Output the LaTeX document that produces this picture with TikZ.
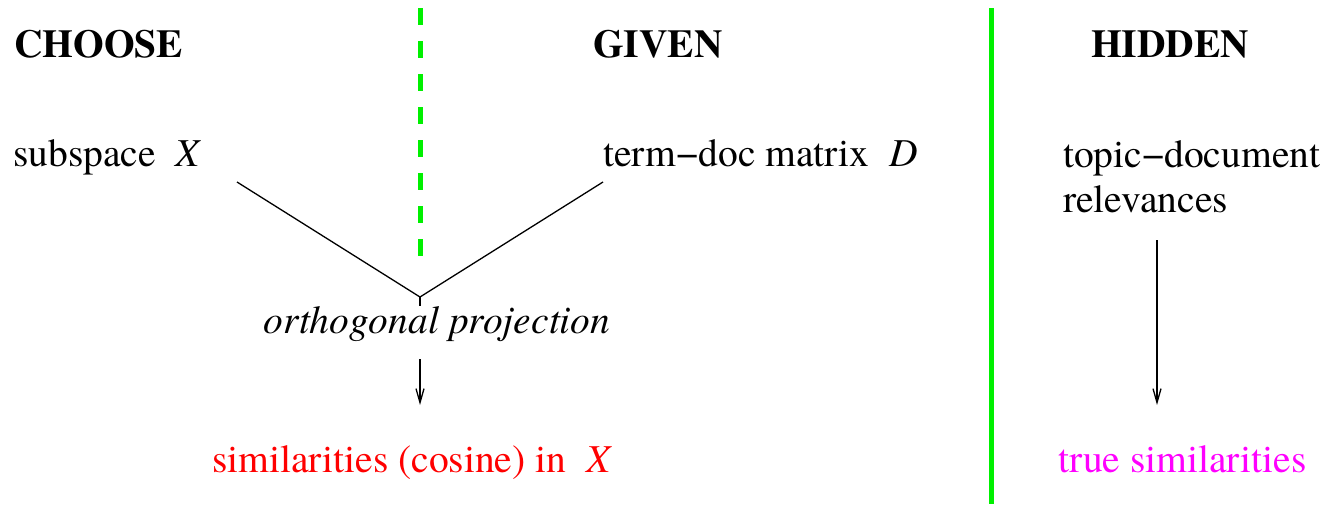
\documentclass[tikz,border=0pt]{standalone}
\usepackage{fontspec}
\setmainfont{texgyretermes-regular.otf}[
	BoldFont=texgyretermes-bold.otf,
	ItalicFont=texgyretermes-italic.otf,
	BoldItalicFont=texgyretermes-bolditalic.otf]
\usetikzlibrary{arrows.meta}
\definecolor{sepgreen}{RGB}{0,240,0}
\definecolor{truepink}{RGB}{255,0,255}

\begin{document}
\begin{tikzpicture}[x=1pt, y=1pt,
		txt/.style={inner sep=0pt, font=\fontsize{39.5}{45}\selectfont},
		head/.style={txt, font=\fontsize{39.5}{45}\selectfont\bfseries},
		link/.style={line width=1.3pt},
		arr/.style={line width=1.3pt, -{Straight Barb[length=14pt, width=8pt]}},
		sep/.style={line width=5pt, sepgreen}]
		\useasboundingbox (0, 0) rectangle (1331, -504);

		\coordinate (Join) at (420, -297);
		\coordinate (Xend) at (237, -182);
		\coordinate (Dend) at (603, -182);
		\coordinate (ProjEnd) at (420, -405);
		\coordinate (RelStart) at (1157, -240);
		\coordinate (RelEnd) at (1157, -405);

		\node[head, anchor=base west] (choose) at (14, -57) {CHOOSE};
		\node[head, anchor=base] (given) at (658, -57) {GIVEN};
		\node[head, anchor=base] (hidden) at (1170, -57) {HIDDEN};

		\node[txt, anchor=base west] (subspace) at (13, -166) {subspace\ \ \textit{X}};
		\node[txt, anchor=base west] (termdoc) at (603, -166) {term−doc matrix\ \ \textit{D}};
		\node[txt, anchor=base west, align=left] (relev) at (1063, -212) {topic−document\\relevances};

		\node[txt, anchor=base, font=\fontsize{39.5}{45}\selectfont\itshape] (proj) at (437, -333) {orthogonal projection};
		\node[txt, anchor=base west, red] (cosine) at (212, -472) {similarities (cosine) in\ \ \textit{X}};
		\node[txt, anchor=base west, truepink] (truesim) at (1058, -472) {true similarities};

		\draw[sep, dash pattern=on 17pt off 16pt] (420, -8) -- (420, -258);
		\draw[sep] (991.5, -8) -- (991.5, -504);

		\draw[link] (Xend) -- (Join);
		\draw[link] (Dend) -- (Join);
		\draw[link] (Join) -- (proj.north -| Join);
		\draw[arr] (proj.south -| Join) ++(0, -18) -- (ProjEnd);
		\draw[arr] (RelStart) -- (RelEnd);
	\end{tikzpicture}
\end{document}
